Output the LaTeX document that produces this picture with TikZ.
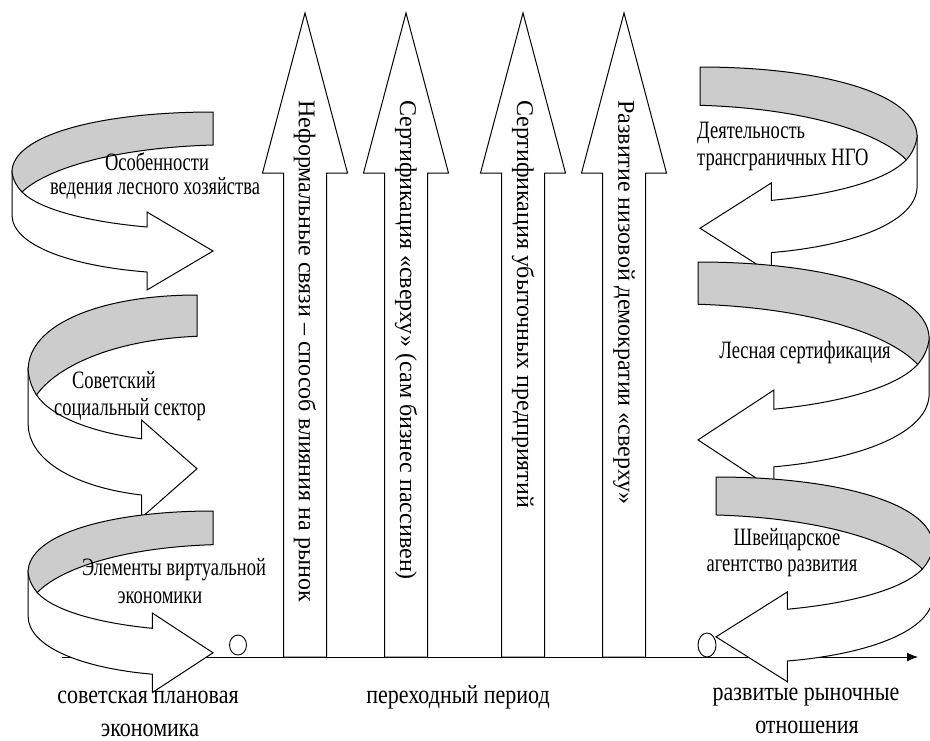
\documentclass[tikz,border=0pt]{standalone}
\usepackage{fontspec}
\setmainfont{Liberation Serif}
\usepackage{graphicx}
\usetikzlibrary{arrows.meta}
\newcommand\vstr[2]{\scalebox{1}[#1]{#2}}
\newcommand\spiralshape[4]{%
  \begin{scope}[shift={(#1,#2)},xscale=#3,yscale=#4]
    \draw[frontband] (-201,60) -- (-201,103) .. controls (-201,133) and (-143,154) .. (-66,160) -- (-66,178) -- (0,139) -- (-66,100) -- (-66,115) .. controls (-123,110) and (-173,98) .. (-191,80) -- cycle;
    \draw[backband] (0,0) .. controls (-113,0) and (-201,23) .. (-201,60) .. controls (-200,68) and (-196,75) .. (-191,80) .. controls (-168,58) and (-103,36) .. (0,33) -- cycle;
  \end{scope}}
\newcommand\vertarrow[1]{%
  \draw[vbox] ({#1-21.5},657) -- ({#1-21.5},173) -- ({#1-42.5},173) -- (#1,13) -- ({#1+42.5},173) -- ({#1+21.5},173) -- ({#1+21.5},657) -- cycle;}
\begin{document}
\begin{tikzpicture}[x=1pt,y=-1pt,
  frontband/.style={draw=black,line width=1pt,fill=white,line join=miter},
  backband/.style={draw=black,line width=1pt,fill=gray!40},
  vbox/.style={draw=black,line width=1pt,fill=white},
  axisline/.style={draw=black,line width=1pt,-{Latex[length=11pt,width=9pt]}},
  dotshape/.style={draw=black,line width=0.9pt,fill=white},
  lbl/.style={inner sep=0pt,font=\fontsize{18.5}{20}\selectfont},
  btm/.style={inner sep=0pt,font=\fontsize{22}{24}\selectfont},
  vlbl/.style={inner sep=0pt,rotate=-90,anchor=west,font=\fontsize{24}{26}\selectfont}]
\useasboundingbox (0,0) rectangle (930,740);
\fill[white] (0,0) rectangle (930,740);
% time axis
\coordinate (axs) at (62,657);
\coordinate (axe) at (918,657);
\draw[axisline] (axs) -- (axe);
\draw[dotshape] (238,645) ellipse [x radius=8.5pt, y radius=10pt];
\draw[dotshape] (707,645) ellipse [x radius=9pt, y radius=12pt];
% vertical arrows
\vertarrow{305}
\vertarrow{406}
\vertarrow{523}
\vertarrow{624}
\node[vlbl] (v1) at (305,100) {Неформальные связи – способ влияния на рынок};
\node[vlbl] (v2) at (406,100) {Сертификация «сверху» (сам бизнес пассивен)};
\node[vlbl] (v3) at (523,100) {Сертификация убыточных предприятий};
\node[vlbl] (v4) at (624,100) {Развитие низовой демократии «сверху»};
% left spirals
\spiralshape{213}{112}{1}{1}
\spiralshape{197}{295}{0.84}{1.25}
\spiralshape{213}{511}{0.92}{1.02}
% right spirals
\spiralshape{700}{67}{-1.08}{1.16}
\spiralshape{698}{262}{-1.15}{1.28}
\spiralshape{716}{477}{-1.08}{1.15}
% labels left
\node[lbl] (l1a) at (157,162) {\vstr{1.35}{Особенности}};
\node[lbl] (l1b) at (155,188) {\vstr{1.35}{ведения лесного хозяйства}};
\node[lbl] (l2a) at (114,380) {\vstr{1.35}{Советский}};
\node[lbl] (l2b) at (130,410) {\vstr{1.35}{социальный сектор}};
\node[lbl] (l3a) at (174,570) {\vstr{1.35}{Элементы виртуальной}};
\node[lbl] (l3b) at (160,598) {\vstr{1.35}{экономики}};
% labels right
\node[lbl,anchor=west] (r1a) at (697,133) {\vstr{1.35}{Деятельность}};
\node[lbl,anchor=west] (r1b) at (697,160) {\vstr{1.35}{трансграничных НГО}};
\node[lbl] (r2) at (805,352) {\vstr{1.35}{Лесная сертификация}};
\node[lbl] (r3a) at (787,540) {\vstr{1.35}{Швейцарское}};
\node[lbl] (r3b) at (782,568) {\vstr{1.35}{агентство развития}};
% bottom labels
\node[btm] (b1a) at (148,697) {\vstr{1.2}{советская плановая}};
\node[btm] (b1b) at (150,730) {\vstr{1.2}{экономика}};
\node[btm] (b2) at (458,697) {\vstr{1.2}{переходный период}};
\node[btm] (b3a) at (806,697) {\vstr{1.2}{развитые рыночные}};
\node[btm] (b3b) at (807,727) {\vstr{1.2}{отношения}};
\end{tikzpicture}
\end{document}
